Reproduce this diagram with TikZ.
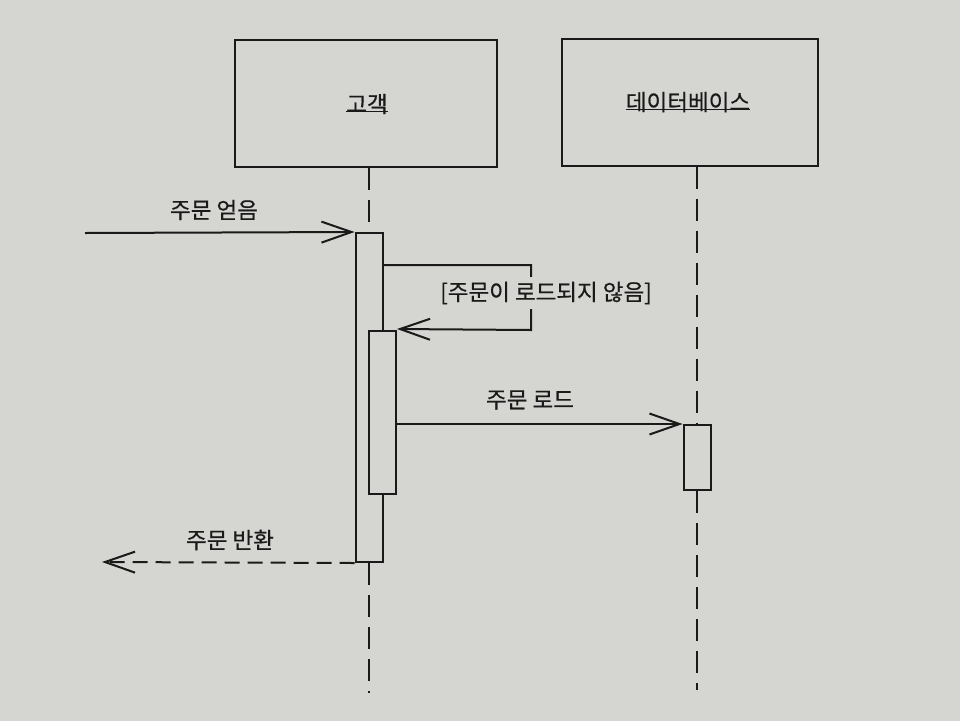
\documentclass[tikz,border=0pt]{standalone}
\usepackage{fontspec}
\setmainfont{Noto Sans CJK KR}[FakeBold=0.6]
\usetikzlibrary{arrows.meta}
\definecolor{paper}{RGB}{213,213,209}
\definecolor{ink}{RGB}{26,26,26}
\begin{document}
\begin{tikzpicture}[x=1pt,y=-1pt,
  every node/.style={font=\fontsize{22.5}{26}\selectfont, text=ink},
  objbox/.style={draw=ink, line width=2pt, minimum width=262pt, minimum height=127pt, inner sep=0pt},
  actbox/.style={draw=ink, fill=paper, line width=2pt, minimum width=27pt, inner sep=0pt},
  lifeline/.style={draw=ink, line width=2pt, dash pattern=on 22pt off 10pt},
  msg/.style={draw=ink, line width=2pt, -{Straight Barb[length=30pt,width=21pt,line width=2pt]}},
  retmsg/.style={msg, dash pattern=on 15pt off 8pt},
  lbl/.style={inner sep=0pt},
  guard/.style={fill=paper, inner xsep=0pt, inner ysep=5pt},
  uline/.style={draw=ink, line width=1.6pt}]
\fill[paper] (0,0) rectangle (960,721);
\useasboundingbox (0,0) rectangle (960,721);
% objects
\node[objbox] (cust) at (366,103.5) {};
\node[objbox, minimum width=256pt] (db) at (690,102.5) {};
\node[lbl] (custname) at (367,104) {고객};
\node[lbl] (dbname) at (688,102) {데이터베이스};
\draw[uline] ([yshift=3pt]custname.south west) -- ([yshift=3pt]custname.south east);
\draw[uline] ([yshift=3pt]dbname.south west) -- ([yshift=3pt]dbname.south east);
% activations
\node[actbox, minimum height=329pt] (act1) at (369,397.5) {};
\node[actbox, minimum height=163pt] (act2) at (382.5,412.5) {};
\node[actbox, minimum height=65pt] (act3) at (697,457.5) {};
% lifelines
\coordinate (custend) at (369,693);
\coordinate (dbend) at (697,690);
\draw[lifeline] (act1.north |- cust.south) -- (act1.north);
\draw[lifeline] (act1.south) -- (custend);
\draw[lifeline] (act3.north |- db.south) -- (act3.north);
\draw[lifeline] (act3.south) -- (dbend);
% incoming message
\coordinate (start) at (85,233);
\draw[msg] (start) -- (act1.north west);
\node[lbl] (m1) at (214,210) {주문 얻음};
% self call
\coordinate (sc1) at (531,265);
\coordinate (sc2) at (531,330);
\draw[msg] (act1.east |- sc1) -- (sc1) -- (sc2) -- ([yshift=1pt]act2.north east);
\node[guard] (m2) at (546,293) {[주문이 로드되지 않음]};
% load
\draw[msg] (act2.east |- act3.north) -- (act3.north west);
\node[lbl] (m3) at (530,400) {주문 로드};
% return
\coordinate (retend) at (102,562);
\draw[retmsg] (act1.south west) -- (retend);
\node[lbl] (m4) at (230,540) {주문 반환};
\end{tikzpicture}
\end{document}
